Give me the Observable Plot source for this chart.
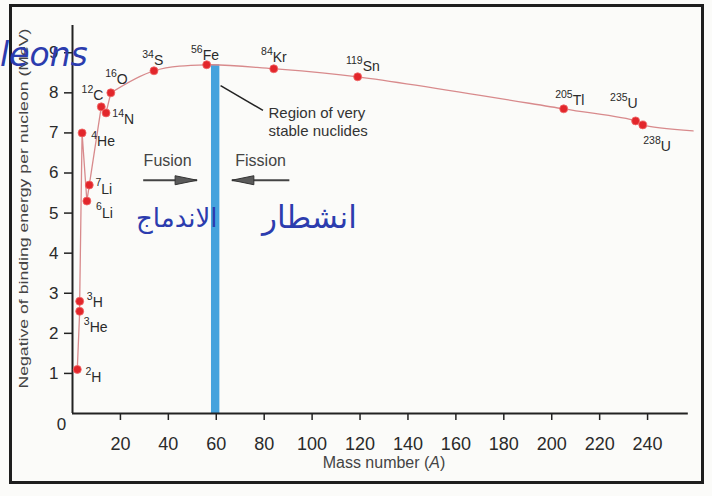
<!DOCTYPE html>
<html><head><meta charset="utf-8">
<script src="https://cdn.jsdelivr.net/npm/d3@7"></script>
<script src="https://cdn.jsdelivr.net/npm/@observablehq/plot@0.6"></script>
<style>
body{margin:0;background:#fbfbf9;}
#wrap{position:relative;width:712px;height:496px;overflow:hidden;font-family:"Liberation Sans",Arial,sans-serif;}
#frame{position:absolute;left:9px;top:4px;width:689px;height:474px;border:3px solid #1e1e1e;pointer-events:none;}
.hand{position:absolute;color:#2c3cae;font-family:"DejaVu Sans",sans-serif;white-space:nowrap;line-height:1;}
svg{position:absolute;left:0;top:0;}
</style></head><body><div id="wrap"><div id="frame"></div>
<div class="hand" style="left:0px;top:38px;font-size:33px;font-style:italic;">leons</div>
<div class="hand" style="left:136px;top:205px;font-size:26px;" dir="rtl">الاندماج</div>
<div class="hand" style="left:262px;top:202px;font-size:31px;" dir="rtl">انشطار</div>
</div>
<script>
// ---- data ----
const nuclides      = ["2H","3H","3He","4He","6Li","7Li","12C","14N","16O","34S","56Fe","84Kr","119Sn","205Tl","235U","238U"];
const massNumbers   = [2, 3, 3, 4, 6, 7, 12, 14, 16, 34, 56, 84, 119, 205, 235, 238];
const symbols       = ["H","H","He","He","Li","Li","C","N","O","S","Fe","Kr","Sn","Tl","U","U"];
const bindingEnergy = [1.1, 2.8, 2.55, 7.0, 5.3, 5.7, 7.65, 7.5, 8.0, 8.55, 8.7, 8.6, 8.4, 7.6, 7.3, 7.2];
// order in which the curve joins the nuclides, plus where the drawn curve ends
const curveOrder = ["2H","3He","3H","4He","6Li","7Li","12C","14N","16O","34S","56Fe","84Kr","119Sn","205Tl","235U","238U"];
const curveEnd = {A: 259, E: 7.05};
const stableBand = [58, 61.5];           // region of very stable nuclides (A)
const xTicks = [20, 40, 60, 80, 100, 120, 140, 160, 180, 200, 220, 240];
const yTicks = [0, 1, 2, 3, 4, 5, 6, 7, 8, 9];
const xLabel = "Mass number (A)";
const yLabel = "Negative of binding energy per nucleon (MeV)";

// ---- layout (pixel offsets of labels relative to the dots) ----
const labelOffset = {
  "2H":[14,8], "3H":[13,1], "3He":[10,16], "4He":[15,9], "6Li":[15,12], "7Li":[12,4],
  "12C":[-8,-11], "14N":[18,7], "16O":[6,-13], "34S":[0,-10], "56Fe":[-4,-9], "84Kr":[-1,-11],
  "119Sn":[5,-10], "205Tl":[9,-8], "235U":[-8,-17], "238U":[18,22]
};

const rows = nuclides.map((n, i) => ({name: n, A: massNumbers[i], E: bindingEnergy[i], sym: symbols[i]}));
const byName = new Map(rows.map(r => [r.name, r]));
const curve = curveOrder.map(n => byName.get(n));
const iO = curveOrder.indexOf("16O");
const lightPart = curve.slice(0, iO + 1);
const heavyPart = curve.slice(iO).concat([curveEnd]);
const fe = byName.get("56Fe");

// annotation anchors (data units)
const fusionArrow  = {x1: 29.5, x2: 52, y: 5.82};
const fissionArrow = {x1: 90.5, x2: 66.5, y: 5.82};
const arrowHead = {draw(ctx) { ctx.moveTo(0, 0); ctx.lineTo(-22, -4.5); ctx.lineTo(-22, 4.5); ctx.closePath(); }};

const ink = "#2a2a2a";
const labelMarks = rows.flatMap(r => {
  const [dx, dy] = labelOffset[r.name];
  return [
    Plot.text([r], {x: "A", y: "E", text: d => String(d.A), dx, dy: dy - 6, textAnchor: "end", fontSize: 10.5, fill: ink}),
    Plot.text([r], {x: "A", y: "E", text: "sym", dx, dy, textAnchor: "start", fontSize: 14, fill: ink})
  ];
});

const plot = Plot.plot({
  width: 712, height: 496,
  marginLeft: 72, marginRight: 17, marginTop: 25, marginBottom: 83,
  x: {domain: [0, 260]},
  y: {domain: [0, 9.68]},
  style: {fontFamily: "'Liberation Sans', Arial, sans-serif", color: ink, background: "transparent", overflow: "visible"},
  marks: [
    Plot.rect([fe], {x1: () => stableBand[0], x2: () => stableBand[1], y1: 0, y2: "E", fill: "#45a3dd"}),
    Plot.ruleY([0], {x1: 0, x2: 257, stroke: "#222", strokeWidth: 2}),
    Plot.ruleX([0], {y1: 0, y2: 9.68, stroke: "#222", strokeWidth: 2}),
    Plot.axisX({ticks: xTicks, tickSize: 7, tickPadding: 17, fontSize: 18, label: null, stroke: "#222", strokeWidth: 1.5}),
    Plot.axisY({ticks: yTicks.filter(d => d > 0), tickSize: 8, tickPadding: 6, fontSize: 17, label: null, stroke: "#222", strokeWidth: 1.5}),
    Plot.text(yTicks.filter(d => d === 0), {x: 0, y: d => d, text: d => String(d), dx: -11, dy: 11, fontSize: 17, fill: ink}),
    Plot.text([xLabel], {frameAnchor: "bottom", dy: 54, fontSize: 16, fill: "#444"}),
    Plot.text([yLabel], {frameAnchor: "bottom-left", rotate: -90, textAnchor: "start", dx: -45, dy: -25, fontSize: 13, fill: "#444"}),
    Plot.line(lightPart, {x: "A", y: "E", stroke: "#d88a8c", strokeWidth: 1.3}),
    Plot.line(heavyPart, {x: "A", y: "E", stroke: "#d88a8c", strokeWidth: 1.3, curve: "catmull-rom"}),
    Plot.dot(rows, {x: "A", y: "E", r: 4, fill: "#e2262b", stroke: "#f06a6a", strokeWidth: 0.8}),
    ...labelMarks,
    Plot.link([{}], {x1: () => 61.8, y1: () => 8.18, x2: () => 79.5, y2: () => 7.56, stroke: "#222", strokeWidth: 1.5}),
    Plot.text(["Region of very\nstable nuclides"], {x: () => 81.8, y: () => 7.29, textAnchor: "start", lineAnchor: "middle", lineHeight: 1.2, fontSize: 15, fill: "#333"}),
    Plot.text(["Fusion"], {x: () => 39.7, y: () => 6.31, fontSize: 16, fill: "#444"}),
    Plot.text(["Fission"], {x: () => 78.5, y: () => 6.31, fontSize: 16, fill: "#444"}),
    Plot.link([fusionArrow, fissionArrow], {x1: "x1", x2: "x2", y1: "y", y2: "y", stroke: "#444", strokeWidth: 2}),
    Plot.dot([fusionArrow, fissionArrow], {x: "x2", y: "y", symbol: arrowHead, rotate: d => d.x2 > d.x1 ? 0 : 180, fill: "#5a5a5a", stroke: "#333", strokeWidth: 1, r: 5})
  ]
});
const wrap = document.getElementById("wrap");
wrap.insertBefore(plot, wrap.firstChild);
// italic A in the x label; stretch the y label as in the printed figure
d3.select(plot).selectAll("text").each(function() {
  const t = this.textContent;
  if (t === xLabel) {
    const el = d3.select(this).text(null);
    el.append("tspan").text("Mass number (");
    el.append("tspan").attr("font-style", "italic").text("A");
    el.append("tspan").text(")");
  } else if (t === yLabel) {
    d3.select(this).attr("textLength", 360).attr("lengthAdjust", "spacingAndGlyphs");
  }
});
</script></body></html>
